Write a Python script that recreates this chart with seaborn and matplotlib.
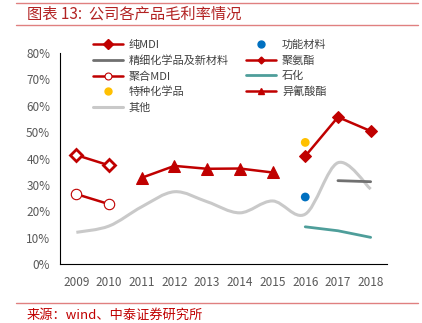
import numpy as np
import pandas as pd
import seaborn as sns
import matplotlib.pyplot as plt
from matplotlib.path import Path
from matplotlib.patches import PathPatch
from matplotlib.lines import Line2D

sns.set_theme(style="white")
plt.rcParams['font.family'] = ['Noto Sans CJK SC', 'DejaVu Sans']

years = [2009, 2010, 2011, 2012, 2013, 2014, 2015, 2016, 2017, 2018]
nan = np.nan
pure_mdi = [41.3, 37.4, nan, nan, nan, nan, nan, nan, nan, nan]
fine_chem = [nan, nan, nan, nan, nan, nan, nan, nan, 31.6, 31.2]
poly_mdi = [26.5, 22.7, nan, nan, nan, nan, nan, nan, nan, nan]
special_chem = [nan, nan, nan, nan, nan, nan, nan, 46.1, nan, nan]
other = [12.0, 14.4, 21.7, 27.4, 23.6, 19.4, 23.9, 18.9, 38.4, 28.4]
func_mat = [nan, nan, nan, nan, nan, nan, nan, 25.4, nan, nan]
pu = [nan, nan, nan, nan, nan, nan, nan, 40.9, 55.7, 50.4]
petro = [nan, nan, nan, nan, nan, nan, nan, 14.1, 12.6, 10.1]
isocyanate = [nan, nan, 32.7, 37.2, 36.1, 36.2, 34.7, nan, nan, nan]

names = ['纯MDI', '精细化学品及新材料', '聚合MDI', '特种化学品', '其他',
         '功能材料', '聚氨酯', '石化', '异氰酸酯']

df = pd.DataFrame({'year': years, '纯MDI': pure_mdi, '精细化学品及新材料': fine_chem,
                   '聚合MDI': poly_mdi, '特种化学品': special_chem, '其他': other,
                   '功能材料': func_mat, '聚氨酯': pu, '石化': petro, '异氰酸酯': isocyanate})

RED = '#C00000'
fig = plt.figure(figsize=(4.22, 3.23), dpi=100)
ax = fig.add_axes([60/422, 1-264/323, (387-60)/422, (264-53)/323])

# 其他 : smoothed line (Excel-like smoothing through the data points)
xs = np.array(years, dtype=float)
ys = np.array(other, dtype=float) / 100
verts = [(xs[0], ys[0])]
codes = [Path.MOVETO]
n = len(xs)
for i in range(n - 1):
    p0 = np.array([xs[max(i-1, 0)], ys[max(i-1, 0)]])
    p1 = np.array([xs[i], ys[i]])
    p2 = np.array([xs[i+1], ys[i+1]])
    p3 = np.array([xs[min(i+2, n-1)], ys[min(i+2, n-1)]])
    c1 = p1 + (p2 - p0) / 6
    c2 = p2 - (p3 - p1) / 6
    verts += [tuple(c1), tuple(c2), tuple(p2)]
    codes += [Path.CURVE4] * 3
ax.add_patch(PathPatch(Path(verts, codes), facecolor='none', edgecolor='#C9C9C9',
                       lw=2.2, zorder=2))

def line(col, **kw):
    d = df[['year', col]].dropna()
    sns.lineplot(x=d['year'], y=d[col] / 100, ax=ax, legend=False, **kw)

line('纯MDI', color=RED, lw=1.8, marker='D', markersize=6, markerfacecolor='white',
     markeredgecolor=RED, markeredgewidth=2, zorder=4)
line('聚合MDI', color=RED, lw=1.8, marker='o', markersize=7.5, markerfacecolor='white',
     markeredgecolor=RED, markeredgewidth=0.8, zorder=4)
line('异氰酸酯', color=RED, lw=1.8, marker='^', markersize=9, markerfacecolor=RED,
     markeredgecolor=RED, zorder=4)
line('聚氨酯', color=RED, lw=1.8, marker='D', markersize=6.5, markerfacecolor=RED,
     markeredgecolor=RED, zorder=4)
line('精细化学品及新材料', color='#707070', lw=2, zorder=3)
line('石化', color='#4E9E9A', lw=2, zorder=3)
d = df[['year', '功能材料']].dropna()
sns.scatterplot(x=d['year'], y=d['功能材料'] / 100, ax=ax, color='#0070C0', s=40,
                edgecolor='none', zorder=5, legend=False)
d = df[['year', '特种化学品']].dropna()
sns.scatterplot(x=d['year'], y=d['特种化学品'] / 100, ax=ax, color='#FFC000', s=40,
                edgecolor='none', zorder=5, legend=False)

ax.set_xlim(2008.5, 2018.5)
ax.set_ylim(0, 0.8)
ax.set_yticks(np.arange(0, 0.81, 0.1))
ax.set_yticklabels([f'{int(round(v*100))}%' for v in np.arange(0, 0.81, 0.1)])
ax.set_xticks(years)
ax.set_xticklabels([str(y) for y in years])
ax.set_xticks(np.arange(2008.5, 2019, 1), minor=True)
ax.tick_params(axis='x', which='major', length=0, pad=9, labelsize=8.5, labelcolor='#595959')
ax.tick_params(axis='x', which='minor', length=4, width=0.8, color='black', direction='out')
ax.tick_params(axis='y', length=4, width=0.8, color='black', direction='out',
               labelsize=8.5, labelcolor='#595959', pad=3)
ax.set_xlabel('')
ax.set_ylabel('')
for s in ['top', 'right']:
    ax.spines[s].set_visible(False)
for s in ['left', 'bottom']:
    ax.spines[s].set_color('black')
    ax.spines[s].set_linewidth(0.8)

handles = [
    Line2D([], [], color=RED, lw=1.8, marker='D', markersize=5, markerfacecolor=RED),
    Line2D([], [], color='#707070', lw=2),
    Line2D([], [], color=RED, lw=1.8, marker='o', markersize=5, markerfacecolor='white',
           markeredgewidth=0.8),
    Line2D([], [], color='#FFC000', lw=0, marker='o', markersize=5),
    Line2D([], [], color='#C9C9C9', lw=2.2),
    Line2D([], [], color='#0070C0', lw=0, marker='o', markersize=5),
    Line2D([], [], color=RED, lw=1.8, marker='D', markersize=3.5),
    Line2D([], [], color='#4E9E9A', lw=2),
    Line2D([], [], color=RED, lw=1.8, marker='^', markersize=5),
]
leg = fig.legend(handles, names, ncol=2, loc='upper left', bbox_to_anchor=(93/422, 1-40/323),
                 frameon=False, fontsize=8, handlelength=2.7, handletextpad=0.5,
                 columnspacing=1.6, labelspacing=0.46, borderpad=0, borderaxespad=0)
for t in leg.get_texts():
    t.set_color('#404040')

# header / footer
LINE = '#E08080'
fig.add_artist(Line2D([16/422, 418/422], [1-3/323, 1-3/323], color=LINE, lw=1))
fig.add_artist(Line2D([16/422, 418/422], [1-25/323, 1-25/323], color=LINE, lw=1))
fig.add_artist(Line2D([16/422, 418/422], [1-303/323, 1-303/323], color=LINE, lw=1))
fig.text(27/422, 1-14/323, '图表 13:  公司各产品毛利率情况', color='#B22222', fontsize=11,
         va='center', ha='left')
fig.text(27/422, 1-315/323, '来源：wind、中泰证券研究所', color='#C00000', fontsize=9.5,
         va='center', ha='left')

fig.savefig('out.png', dpi=100)
